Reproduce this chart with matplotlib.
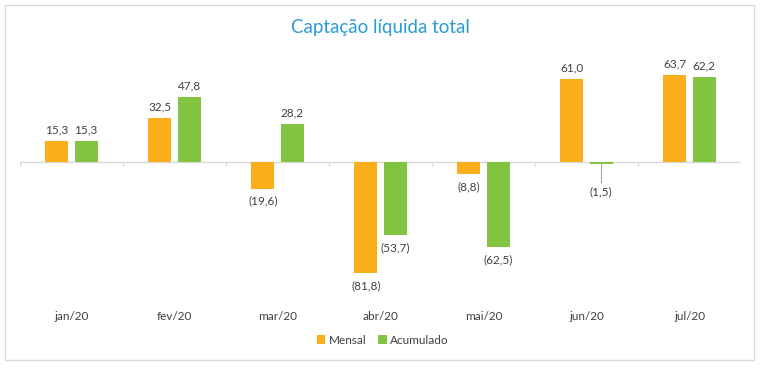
import matplotlib.pyplot as plt
import matplotlib.patches as patches
import numpy as np

#####################################
# Data
#####################################

months = ["jan/20", "fev/20", "mar/20", "abr/20", "mai/20", "jun/20", "jul/20"]
mensal = [15.3, 32.5, -19.6, -81.8, -8.8, 61.0, 63.7]
acumulado = [15.3, 47.8, 28.2, -53.7, -62.5, -1.5, 62.2]

ORANGE = "#FBAE19"
GREEN = "#82C341"
TITLE_BLUE = "#2A9BD7"
TEXT = "#404040"
GRID = "#D9D9D9"

plt.rcParams["font.family"] = ["Lato", "DejaVu Sans"]


def fmt(v):
    s = f"{abs(v):.1f}".replace(".", ",")
    return f"({s})" if v < 0 else s


#####################################
# Figure
#####################################

fig = plt.figure(figsize=(7.63, 3.71), dpi=100)
ax = fig.add_axes([20 / 763, 73 / 371, 721 / 763, 245 / 371])

x = np.arange(len(months))
w = 0.223
off = 0.141

ax.bar(x - off, mensal, w, color=ORANGE, label="Mensal", zorder=2)
ax.bar(x + off, acumulado, w, color=GREEN, label="Acumulado", zorder=2)

ax.set_xlim(-0.5, len(months) - 0.5)
ax.set_ylim(-100, 80)

# zero line and category boundary ticks
ax.axhline(0, color=GRID, lw=1, zorder=1)
ax.vlines(np.arange(len(months) + 1) - 0.5, -3, 0, color=GRID, lw=1, zorder=1)

# data labels
for xs, vals in ((x - off, mensal), (x + off, acumulado)):
    for xi, v in zip(xs, vals):
        if v == -1.5:
            # small bar: label pulled down with a leader line
            ax.plot([xi, xi], [-1.5, -14.5], color="#A6A6A6", lw=0.8, zorder=1)
            ax.text(xi, -18, fmt(v), ha="center", va="top", fontsize=8.5, color=TEXT)
            continue
        if v >= 0:
            ax.annotate(fmt(v), (xi, v), xytext=(0, 4), textcoords="offset points",
                        ha="center", va="bottom", fontsize=8.5, color=TEXT)
        else:
            ax.annotate(fmt(v), (xi, v), xytext=(0, -5), textcoords="offset points",
                        ha="center", va="top", fontsize=8.5, color=TEXT)

# category labels under the plot
ax.set_xticks(x, months)
ax.tick_params(axis="x", length=0, pad=9, labelsize=8.5, labelcolor=TEXT)
ax.set_yticks([])
for s in ax.spines.values():
    s.set_visible(False)

fig.text(380 / 763, 1 - 28 / 371, "Captação líquida total", ha="center", va="center",
         fontsize=13.5, color=TITLE_BLUE)

fig.legend(loc="center", bbox_to_anchor=(383 / 763, 1 - 340 / 371), ncol=2, frameon=False,
           fontsize=8.5, handlelength=0.7, handleheight=0.7, handletextpad=0.3,
           columnspacing=1.0, labelcolor=TEXT)

# outer border
fig.patches.append(patches.Rectangle((5 / 763, 11 / 371), 749 / 763, 355 / 371,
                                     transform=fig.transFigure, fill=False,
                                     edgecolor=GRID, lw=1))

fig.savefig("out.png", dpi=100)
